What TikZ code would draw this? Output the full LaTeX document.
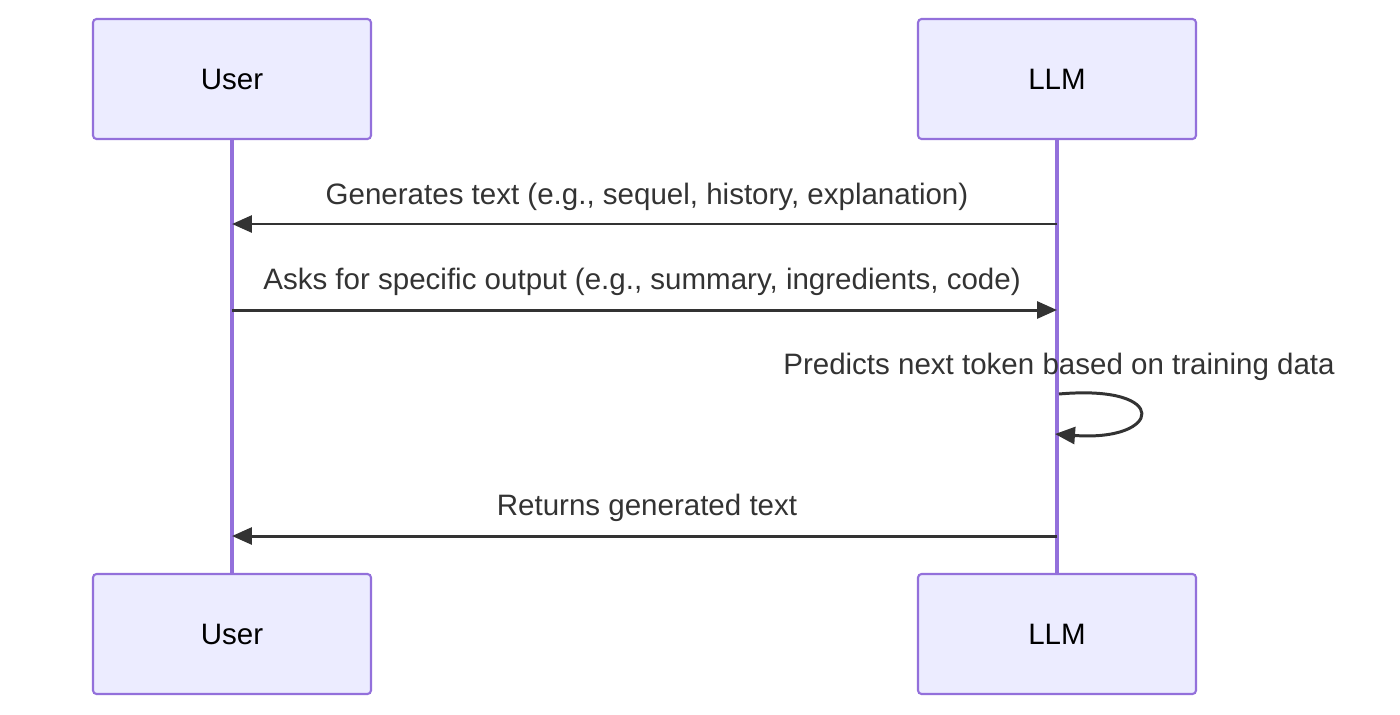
\documentclass[tikz,border=0pt]{standalone}
\usepackage{fontspec}
\setmainfont{Liberation Sans}
\usetikzlibrary{arrows.meta}
\definecolor{actfill}{HTML}{ECECFF}
\definecolor{actline}{HTML}{9370DB}
\definecolor{msgline}{HTML}{333333}
\begin{document}
\begin{tikzpicture}[x=0.02cm,y=-0.02cm,
    actor/.style={draw=actline,fill=actfill,line width=1.2pt,rounded corners=2pt,
      minimum width=5.56cm,minimum height=2.4cm,font=\fontsize{16.8}{20}\selectfont},
    life/.style={actline,line width=2.2pt},
    msg/.style={msgline,line width=1.7pt,-{Triangle[length=0.4cm,width=0.34cm]}},
    lbl/.style={text=msgline,font=\fontsize{16.8}{20}\selectfont}]
    \useasboundingbox (0,0) rectangle (1400,714);
    \node[actor] (usertop) at (232,79) {User};
    \node[actor] (llmtop) at (1057,79) {LLM};
    \node[actor] (userbot) at (232,634) {User};
    \node[actor] (llmbot) at (1057,634) {LLM};
    \draw[life] (usertop) -- (userbot);
    \draw[life] (llmtop) -- (llmbot);
    % messages
    \coordinate (u1) at (232,224); \coordinate (l1) at (1057,224);
    \coordinate (u2) at (232,310); \coordinate (l2) at (1057,310);
    \coordinate (l3) at (1059,394); \coordinate (l3e) at (1055,434);
    \coordinate (u4) at (232,536); \coordinate (l4) at (1057,536);
    \draw[msg] (l1) -- (u1);
    \node[lbl] at (647,197) {Generates text (e.g., sequel, history, explanation)};
    \draw[msg] (u2) -- (l2);
    \node[lbl] at (642,282) {Asks for specific output (e.g., summary, ingredients, code)};
    \draw[msg] (l3) .. controls (1172,384) and (1162,442) .. (l3e);
    \node[lbl] at (1059,367) {Predicts next token based on training data};
    \draw[msg] (l4) -- (u4);
    \node[lbl] at (647,508) {Returns generated text};
\end{tikzpicture}
\end{document}
